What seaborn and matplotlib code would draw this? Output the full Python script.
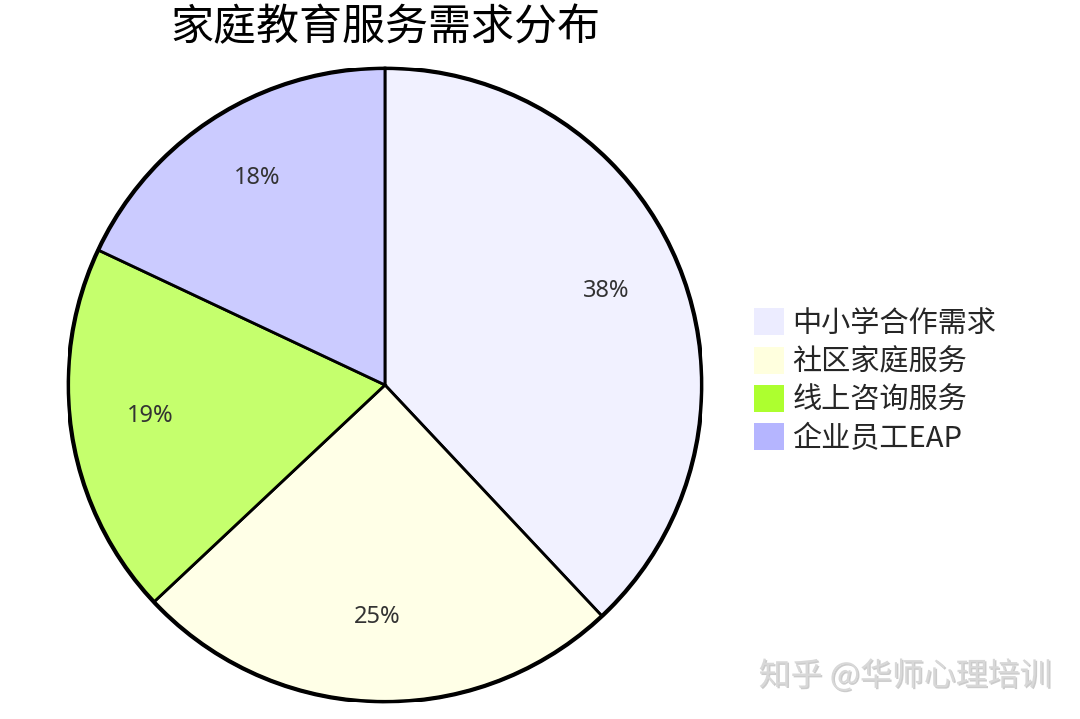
import matplotlib
matplotlib.use("Agg")
import matplotlib.pyplot as plt
import matplotlib.colors as mcolors
import matplotlib.patheffects as pe
from matplotlib.patches import Patch, Circle
import seaborn as sns

# data
categories = ["中小学合作需求", "社区家庭服务", "线上咨询服务", "企业员工EAP"]
shares = [38, 25, 19, 18]
legend_colors = ["#ECECFF", "#FFFFDE", "#ADFF2F", "#B5B5FF"]
title = "家庭教育服务需求分布"
watermark = "知乎 @华师心理培训"

sns.set_theme(style="white")
plt.rcParams["font.family"] = ["Noto Sans CJK SC", "DejaVu Sans"]

fig = plt.figure(figsize=(10.8, 7.19), dpi=100)
fig.patch.set_facecolor("white")

# pie occupies a square box centred at (385, 385) px, radius ~317 px
R = 317
ax = fig.add_axes([(385 - R) / 1080, (719 - 385 - R) / 719, 2 * R / 1080, 2 * R / 719])

# wedges are drawn semi-transparent like the original, legend keeps full colour
pie_colors = [mcolors.to_rgba(c, 0.7) for c in legend_colors]
wedges, texts, autotexts = ax.pie(
    shares,
    colors=pie_colors,
    startangle=90,
    counterclock=False,
    autopct="%d%%",
    pctdistance=0.75,
    wedgeprops=dict(edgecolor="black", linewidth=2),
    textprops=dict(fontsize=17, color="#333333", family=["Noto Sans", "DejaVu Sans"]),
)
for t in autotexts:
    t.set_va("baseline")
ax.add_patch(Circle((0, 0), 1.0, fill=False, edgecolor="black", linewidth=3))
ax.set_xlim(-1.0, 1.0)
ax.set_ylim(-1.0, 1.0)
ax.set_aspect("equal")
ax.axis("off")

fig.text(385 / 1080, 1 - 28 / 719, title, ha="center", va="center",
         fontsize=31, color="black")

handles = [Patch(facecolor=c, edgecolor="none") for c in legend_colors]
fig.legend(handles, categories, loc="center left",
           bbox_to_anchor=(742 / 1080, 1 - 381 / 719),
           frameon=False, fontsize=21,
           handlelength=1.05, handleheight=1.05,
           handletextpad=0.28, labelspacing=0.27, borderaxespad=0)

fig.text(1052 / 1080, 1 - 676 / 719, watermark, ha="right", va="center",
         fontsize=23, color="#d8d8d8", fontweight="light",
         path_effects=[pe.withSimplePatchShadow(offset=(1, -1), shadow_rgbFace="#999999", alpha=0.5)])

fig.savefig("out.png", dpi=100, facecolor="white")
